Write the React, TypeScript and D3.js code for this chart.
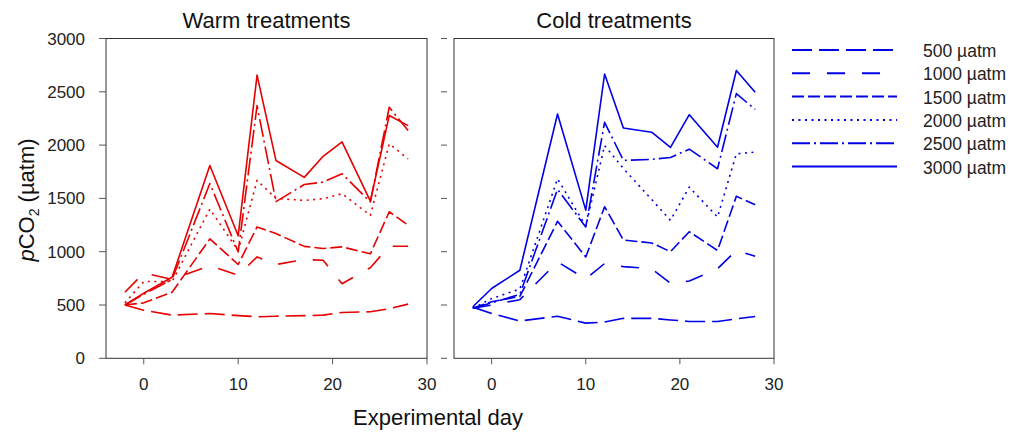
// App.tsx
import React, { useRef, useEffect, FC } from 'react';
import * as d3 from 'd3';

// Experimental days sampled
const days = [-2, 0, 3, 7, 10, 12, 14, 17, 19, 21, 24, 26, 28];

// Target pCO2 treatments (legend)
const treatments = ['500 µatm', '1000 µatm', '1500 µatm', '2000 µatm', '2500 µatm', '3000 µatm'];

// Warm treatments, measured pCO2 (µatm)
const warm500 = [500, 450, 405, 420, 400, 390, 395, 400, 405, 430, 436, 465, 508];
const warm1000 = [620, 800, 740, 870, 780, 951, 880, 926, 920, 700, 850, 1051, 1051];
const warm1500 = [500, 520, 620, 1120, 880, 1232, 1170, 1050, 1030, 1045, 980, 1375, 1248];
const warm2000 = [520, 720, 720, 1400, 1010, 1669, 1500, 1481, 1497, 1544, 1341, 2012, 1871];
const warm2500 = [500, 600, 740, 1640, 998, 2370, 1470, 1630, 1653, 1731, 1466, 2355, 2136];
const warm3000 = [500, 610, 760, 1809, 1150, 2657, 1856, 1697, 1895, 2030, 1474, 2277, 2183];

// Cold treatments, measured pCO2 (µatm)
const cold500 = [480, 420, 350, 395, 330, 340, 375, 375, 360, 345, 345, 370, 392];
const cold1000 = [470, 500, 550, 904, 745, 889, 860, 840, 705, 725, 840, 1013, 957];
const cold1500 = [470, 530, 580, 1285, 951, 1422, 1110, 1082, 1000, 1187, 1012, 1520, 1440];
const cold2000 = [470, 560, 650, 1684, 1240, 1996, 1780, 1490, 1294, 1606, 1325, 1918, 1934];
const cold2500 = [470, 520, 600, 1585, 1232, 2214, 1856, 1866, 1884, 1962, 1778, 2483, 2335];
const cold3000 = [484, 655, 826, 2292, 1390, 2667, 2160, 2121, 1978, 2285, 1980, 2700, 2495];

const yTicks = [0, 500, 1000, 1500, 2000, 2500, 3000];
const xTicks = [0, 10, 20, 30];

const dashes = ['20,7', '18,17', '12,4', '2,4.5', '18,4,2,4', null];

const FONT = '"Liberation Sans", Arial, sans-serif';

const App: FC = () => {
  const svgRef = useRef<SVGSVGElement | null>(null);

  useEffect(() => {
    const svg = d3.select(svgRef.current);
    svg.selectAll('*').remove();

    const y = d3.scaleLinear().domain([0, 3000]).range([358.3, 38.5]);

    const panels = [
      { title: 'Warm treatments', left: 106, right: 427, color: '#e60000', series: [warm500, warm1000, warm1500, warm2000, warm2500, warm3000], tickX0: 99, tickX1: 106, labels: true },
      { title: 'Cold treatments', left: 454, right: 774, color: '#0000e6', series: [cold500, cold1000, cold1500, cold2000, cold2500, cold3000], tickX0: 441, tickX1: 447, labels: false },
    ];

    panels.forEach((p) => {
      const x = d3.scaleLinear().domain([-4, 30]).range([p.left, p.right]);
      const g = svg.append('g');

      // frame
      g.append('rect')
        .attr('x', p.left).attr('y', y(3000))
        .attr('width', p.right - p.left).attr('height', y(0) - y(3000))
        .attr('fill', 'none').attr('stroke', '#333').attr('stroke-width', 1);

      // y ticks
      g.selectAll('line.yt').data(yTicks).join('line')
        .attr('x1', p.tickX0).attr('x2', p.tickX1)
        .attr('y1', (d) => y(d)).attr('y2', (d) => y(d))
        .attr('stroke', '#555').attr('stroke-width', 1);
      if (p.labels) {
        g.selectAll('text.yl').data(yTicks).join('text')
          .attr('x', 85).attr('y', (d) => y(d) + 6)
          .attr('text-anchor', 'end')
          .attr('font-family', FONT).attr('font-size', 17).attr('fill', '#222')
          .text((d) => d);
      }

      // x ticks
      g.selectAll('line.xt').data(xTicks).join('line')
        .attr('x1', (d) => x(d)).attr('x2', (d) => x(d))
        .attr('y1', y(0)).attr('y2', y(0) + 6)
        .attr('stroke', '#555').attr('stroke-width', 1);
      g.selectAll('text.xl').data(xTicks).join('text')
        .attr('x', (d) => x(d)).attr('y', 390)
        .attr('text-anchor', 'middle')
        .attr('font-family', FONT).attr('font-size', 17).attr('fill', '#222')
        .text((d) => d);

      // title
      g.append('text')
        .attr('x', (p.left + p.right) / 2).attr('y', 28)
        .attr('text-anchor', 'middle')
        .attr('font-family', FONT).attr('font-size', 22).attr('fill', '#111')
        .text(p.title);

      const line = d3.line<number>().x((_, i) => x(days[i])).y((d) => y(d));
      p.series.forEach((vals, si) => {
        g.append('path')
          .attr('d', line(vals))
          .attr('fill', 'none')
          .attr('stroke', p.color)
          .attr('stroke-width', 1.6)
          .attr('stroke-dasharray', dashes[si])
          .attr('stroke-linejoin', 'round');
      });
    });

    // axis labels
    svg.append('text')
      .attr('x', 438).attr('y', 425)
      .attr('text-anchor', 'middle')
      .attr('font-family', FONT).attr('font-size', 22).attr('fill', '#111')
      .text('Experimental day');

    const yl = svg.append('text')
      .attr('transform', 'translate(34,200) rotate(-90)')
      .attr('text-anchor', 'middle')
      .attr('font-family', FONT).attr('font-size', 22).attr('fill', '#111');
    yl.append('tspan').attr('font-style', 'italic').text('p');
    yl.append('tspan').text('CO');
    yl.append('tspan').attr('font-size', 14).attr('dy', 5).text('2');
    yl.append('tspan').attr('dy', -5).text(' (µatm)');

    // legend
    const lg = svg.append('g');
    treatments.forEach((t, i) => {
      const ly = 50 + i * 23.3;
      lg.append('line')
        .attr('x1', 792).attr('x2', 897)
        .attr('y1', ly).attr('y2', ly)
        .attr('stroke', '#0000e6').attr('stroke-width', 2)
        .attr('stroke-dasharray', dashes[i]);
      lg.append('text')
        .attr('x', 923).attr('y', ly + 7)
        .attr('font-family', FONT).attr('font-size', 17.5).attr('fill', '#222')
        .text(t);
    });
  }, []);

  return (
    <div style={{ position: 'absolute', left: 0, top: 0 }}>
      <svg ref={svgRef} width={1013} height={432} style={{ display: 'block', background: '#fff' }}></svg>
    </div>
  );
};

export default App;
